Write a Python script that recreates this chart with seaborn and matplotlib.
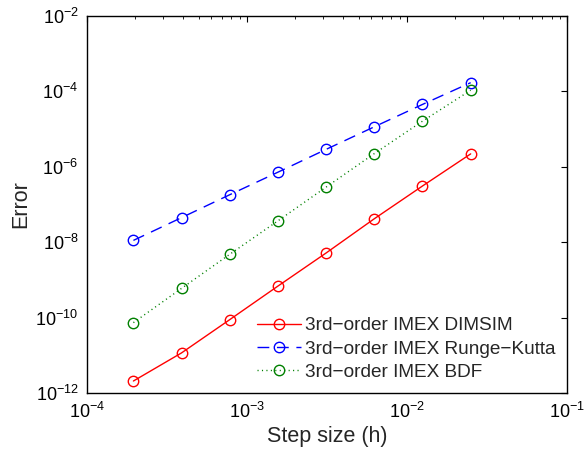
import numpy as np
import pandas as pd
import matplotlib
matplotlib.use("Agg")
import matplotlib.pyplot as plt
import matplotlib.ticker as mticker
import seaborn as sns

# Step sizes h and the measured errors of each scheme
step_size = [1.953125e-4, 3.90625e-4, 7.8125e-4, 1.5625e-3, 3.125e-3, 6.25e-3, 1.25e-2, 2.5e-2]
err_dimsim = [2.1e-12, 1.17e-11, 8.9e-11, 6.9e-10, 5.2e-9, 4.2e-8, 3.1e-7, 2.2e-6]
err_rk = [1.12e-8, 4.5e-8, 1.82e-7, 7.2e-7, 2.9e-6, 1.15e-5, 4.5e-5, 1.7e-4]
err_bdf = [7.4e-11, 6.0e-10, 4.8e-9, 3.7e-8, 2.9e-7, 2.24e-6, 1.62e-5, 1.07e-4]

labels = ["3rd\u2212order IMEX DIMSIM", "3rd\u2212order IMEX Runge\u2212Kutta", "3rd\u2212order IMEX BDF"]
colors = ["#ff0000", "#0000ff", "#008000"]
dashes = [None, (8.5, 5.5), (0.8, 2.4)]

sns.set_theme(style="white")
plt.rcParams["font.family"] = ["Liberation Sans", "DejaVu Sans"]
plt.rcParams["mathtext.default"] = "regular"
plt.rcParams["axes.unicode_minus"] = True

fig = plt.figure(figsize=(5.87, 4.54), dpi=100)
ax = fig.add_axes([0.148, 0.134, 0.818, 0.831])

series = [err_dimsim, err_rk, err_bdf]
for lab, err, col, ds in zip(labels, series, colors, dashes):
    df = pd.DataFrame({"h": step_size, "err": err})
    kw = {}
    if ds is not None:
        kw["dashes"] = ds
    sns.lineplot(data=df, x="h", y="err", ax=ax, color=col, lw=1.0,
                 marker="o", markersize=7.5, markerfacecolor="none",
                 markeredgecolor=col, markeredgewidth=1.0, label=lab, **kw)

ax.set_xscale("log")
ax.set_yscale("log")
ax.set_xlim(1e-4, 1e-1)
ax.set_ylim(1e-12, 1e-2)

ax.xaxis.set_major_locator(mticker.LogLocator(base=10, numticks=10))
ax.xaxis.set_minor_locator(mticker.LogLocator(base=10, subs=np.arange(2, 10), numticks=20))
ax.yaxis.set_major_locator(mticker.FixedLocator([1e-12, 1e-10, 1e-8, 1e-6, 1e-4, 1e-2]))
ax.yaxis.set_minor_locator(mticker.NullLocator())
ax.yaxis.set_major_formatter(mticker.LogFormatterSciNotation())

ax.tick_params(which="both", direction="in", top=True, right=True, colors="black",
               labelsize=13)
ax.tick_params(which="major", length=4.5, width=0.8, pad=6)
ax.tick_params(which="minor", length=2.5, width=0.6)
for sp in ax.spines.values():
    sp.set_color("black")
    sp.set_linewidth(1.0)

ax.set_xlabel("Step size (h)", fontsize=15.5, labelpad=3)
ax.set_ylabel("Error", fontsize=15.5, labelpad=3)
ax.grid(False)

leg = ax.legend(loc="center left", bbox_to_anchor=(0.354, 0.117), frameon=False,
                fontsize=13.7, handlelength=2.3, handletextpad=0.25,
                labelspacing=0.32, borderpad=0, borderaxespad=0)

fig.savefig("out.png", dpi=100, facecolor="white")
